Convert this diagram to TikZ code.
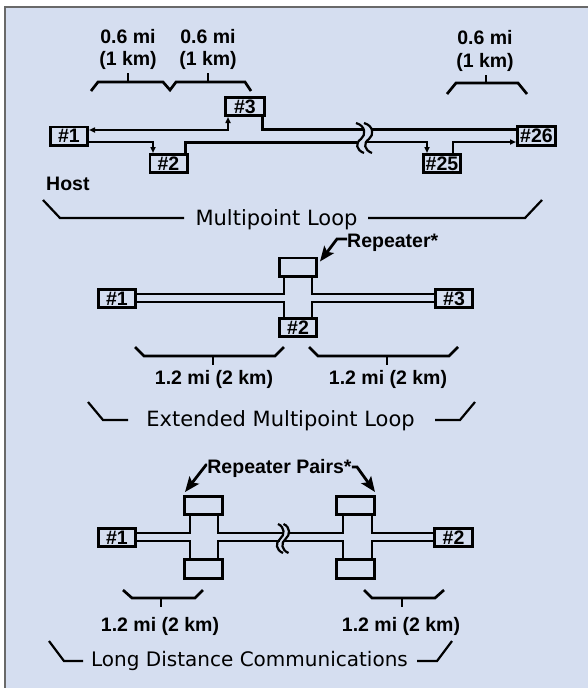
\documentclass[tikz,border=0pt]{standalone}
\usepackage{fontspec}
\setmainfont{Liberation Sans}
\newfontfamily\dvfont{DejaVu Sans}
\usetikzlibrary{arrows.meta,calc}
\definecolor{bgc}{RGB}{213,222,240}
\definecolor{framec}{RGB}{105,105,105}
\begin{document}
\begin{tikzpicture}[x=1pt,y=-1pt,
  box/.style={draw,line width=2.8pt,fill=bgc,inner sep=0pt,font=\bfseries\fontsize{19.5}{19.5}\selectfont,minimum width=37.2pt,minimum height=18.2pt},
  lbl/.style={font=\bfseries\fontsize{19.5}{20}\selectfont,inner sep=0pt,anchor=base},
  captxt/.style={font=\dvfont\fontsize{21}{22}\selectfont,inner sep=0pt,anchor=base},
  wire/.style={line width=2.5pt},
  thk/.style={line width=3pt},
  brk/.style={line width=2.7pt,line join=miter},
  wavy/.style={line width=2.2pt},
  sarr/.style={-{Triangle[length=6pt,width=5pt]}},
  darr/.style={{Triangle[length=6pt,width=5pt]}-{Triangle[length=6pt,width=5pt]}},
  bigarr/.style={line width=2.8pt,line join=miter,-{Stealth[length=15pt,width=12pt,inset=3pt]}}
]
\useasboundingbox (0,0) rectangle (588,688);
\fill[bgc] (4,6) rectangle (588,688);
\draw[framec,line width=2pt] (4.5,688) -- (4.5,6.5) -- (588,6.5);

% ---------- Multipoint loop ----------
\node[box] (t1) at (69,136) {\#1};
\node[box] (t2) at (168.5,163.5) {\#2};
\node[box,minimum width=39.2pt] (t3) at (245,106.5) {\#3};
\node[box] (t25) at (442,163.5) {\#25};
\node[box,minimum width=38.2pt,minimum height=19.2pt] (t26) at (536.5,136) {\#26};

\coordinate (bkAl) at (357,142);
\coordinate (bkAr) at (365,142);
\coordinate (bkBl) at (364,129.5);
\coordinate (bkBr) at (372,129.5);

\draw[wire,sarr] (t1.east |- 0,142) -| (t2.north -| 153,0);
\draw[thk] (t2.north -| 185,0) |- (bkAl);
\draw[wire,sarr] (bkAr) -| (t25.north -| 427,0);
\draw[wire,sarr] (t25.north -| 453,0) |- (t26.west |- 0,142);
\draw[thk] (t26.west |- 0,129.5) -- (bkBr);
\draw[thk] (bkBl) -| (t3.south -| 262,0);
\draw[wire,darr] (t1.east |- 0,130) -| (t3.south -| 228,0);
\draw[wavy] (356,123) .. controls (366,126) and (366,135) .. (361,139) .. controls (355,143) and (356,150) .. (364,153);
\draw[wavy] (364,123) .. controls (374,126) and (374,135) .. (369,139) .. controls (363,143) and (364,150) .. (372,153);

\node[lbl] (d1a) at (128,43) {0.6 mi};
\node[lbl] (d1b) at (128,65) {(1 km)};
\node[lbl] (d2a) at (208,43) {0.6 mi};
\node[lbl] (d2b) at (208,65) {(1 km)};
\node[lbl] (d3a) at (485,44) {0.6 mi};
\node[lbl] (d3b) at (485,67) {(1 km)};
\draw[brk] (91,91) -- (98,82) -- (163,82) -- (170,90) -- (176,82) -- (245,82) -- (251,91);
\draw[brk] (128,82) -- (128,73);
\draw[brk] (208,82) -- (208,73);
\draw[brk] (447,94) -- (456,83) -- (518,83) -- (527,94);
\draw[brk] (486,83) -- (486,75);

\node[lbl,anchor=base west] (host) at (46,190) {Host};
\node[captxt] (ml) at (276.5,225) {Multipoint Loop};
\draw[line width=2.2pt] (43,200) -- (60,218) -- (184,218);
\draw[line width=2.2pt] (368,218) -- (525,218) -- (542,200);

% ---------- Extended multipoint loop ----------
\node[box] (m1) at (117,298.5) {\#1};
\node[box] (mr) at (298,267) {};
\node[box] (m2) at (298,327.5) {\#2};
\node[box] (m3) at (454,298.5) {\#3};
\draw[wire] (m1.east |- 0,294) -| (mr.south -| 284,0);
\draw[wire] (m1.east |- 0,302) -| (m2.north -| 284,0);
\draw[wire] (m3.west |- 0,294) -| (mr.south -| 312,0);
\draw[wire] (m3.west |- 0,302) -| (m2.north -| 312,0);

\node[lbl,anchor=base west] (rep) at (347,247) {Repeater*};
\draw[bigarr] (rep.west |- 0,239) -- (337,239) -- ($(mr.north east)+(2,5)$);

\draw[brk] (135,347) -- (144,356) -- (275,356) -- (284,347);
\draw[brk] (213,356) -- (213,365);
\draw[brk] (309,347) -- (318,356) -- (449,356) -- (458,347);
\draw[brk] (387,356) -- (387,365);
\node[lbl] (e1) at (214,384) {1.2 mi (2 km)};
\node[lbl] (e2) at (388,384) {1.2 mi (2 km)};

\node[captxt] (eml) at (280.5,426) {Extended Multipoint Loop};
\draw[line width=2.2pt] (88,402) -- (103,420) -- (128,420);
\draw[line width=2.2pt] (435,420) -- (460,420) -- (475,402);

% ---------- Long distance ----------
\node[box] (b1) at (117,537.5) {\#1};
\node[box,minimum width=38.2pt] (p1a) at (203.5,505.5) {};
\node[box,minimum width=38.2pt,minimum height=19.2pt] (p1b) at (203.5,569) {};
\node[box,minimum width=38.2pt] (p2a) at (355.5,505.5) {};
\node[box,minimum width=38.2pt,minimum height=19.2pt] (p2b) at (355.5,569) {};
\node[box,minimum width=38.2pt] (b2) at (453.5,537.5) {\#2};

\coordinate (bkCl) at (283,533);
\coordinate (bkCr) at (289,533);
\coordinate (bkDl) at (279.5,541);
\coordinate (bkDr) at (285,541);
\draw[wire] (b1.east |- 0,533) -| (p1a.south -| 190,0);
\draw[wire] (b1.east |- 0,541) -| (p1b.north -| 190,0);
\draw[wire] (p1a.south -| 218,0) |- (bkCl);
\draw[wire] (p1b.north -| 218,0) |- (bkDl);
\draw[wire] (bkCr) -| (p2a.south -| 343,0);
\draw[wire] (bkDr) -| (p2b.north -| 343,0);
\draw[wire] (b2.west |- 0,533) -| (p2a.south -| 372,0);
\draw[wire] (b2.west |- 0,541) -| (p2b.north -| 372,0);
\draw[wavy] (278,524) .. controls (285,527) and (285,535) .. (280,539) .. controls (275,543) and (276,550) .. (283,553);
\draw[wavy] (283.5,524) .. controls (290.5,527) and (290.5,535) .. (285.5,539) .. controls (280.5,543) and (281.5,550) .. (288.5,553);

\node[lbl] (rp) at (279.5,473) {Repeater Pairs*};
\draw[bigarr] (rp.west |- 0,465) -- (206,465) -- ($(p1a.north west)+(2,-3)$);
\draw[bigarr] (rp.east |- 0,467) -- (357,467) -- ($(p2a.north east)+(-1,-3)$);

\draw[brk] (123,590) -- (132,598) -- (195,598) -- (203,590);
\draw[brk] (161,598) -- (161,607);
\draw[brk] (364,590) -- (372,598) -- (435,598) -- (444,590);
\draw[brk] (402,598) -- (402,607);
\node[lbl] (f1) at (160,631) {1.2 mi (2 km)};
\node[lbl] (f2) at (401,631) {1.2 mi (2 km)};

\node[captxt,font=\dvfont\fontsize{20}{21}\selectfont] (ldc) at (249.5,666) {Long Distance Communications};
\draw[line width=2.2pt] (49,641) -- (64,661) -- (83,661);
\draw[line width=2.2pt] (417,661) -- (437,661) -- (452,641);
\end{tikzpicture}
\end{document}
